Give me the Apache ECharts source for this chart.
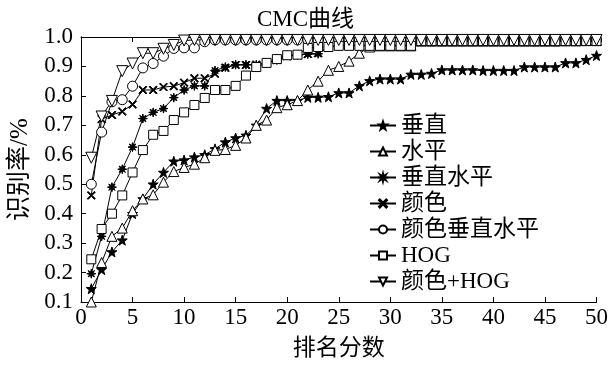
<!DOCTYPE html>
<html>
<head>
<meta charset="utf-8">
<script src="https://cdn.jsdelivr.net/npm/echarts@6/dist/echarts.min.js"></script>
<style>html,body{margin:0;padding:0;background:#fff;}#chart{width:611px;height:365px;}</style>
</head>
<body>
<div id="chart"></div>
<script>
var titleText = 'CMC曲线';
var xName = '排名分数';
var yName = '识别率/%';
var seriesNames = ['垂直', '水平', '垂直水平', '颜色', '颜色垂直水平', 'HOG', '颜色+HOG'];
var ranks = [1,2,3,4,5,6,7,8,9,10,11,12,13,14,15,16,17,18,19,20,21,22,23,24,25,26,27,28,29,30,31,32,33,34,35,36,37,38,39,40,41,42,43,44,45,46,47,48,49,50];
var xTicks = [0,5,10,15,20,25,30,35,40,45,50];
var yTicks = [0.1,0.2,0.3,0.4,0.5,0.6,0.7,0.8,0.9,1.0];

var vertical = [0.145,0.21,0.27,0.31,0.40,0.45,0.50,0.54,0.578,0.582,0.592,0.60,0.62,0.643,0.657,0.666,0.70,0.757,0.784,0.784,0.784,0.795,0.795,0.797,0.81,0.81,0.834,0.851,0.857,0.857,0.857,0.873,0.873,0.876,0.888,0.888,0.888,0.888,0.886,0.886,0.886,0.886,0.898,0.898,0.898,0.898,0.912,0.912,0.923,0.937];
var horizontal = [0.10,0.234,0.323,0.351,0.41,0.45,0.464,0.507,0.543,0.557,0.568,0.59,0.615,0.618,0.632,0.657,0.70,0.718,0.76,0.77,0.784,0.82,0.85,0.887,0.90,0.918,0.945,0.966,0.97,0.97,0.97,0.97,0.986,0.986,0.986,0.986,0.986,0.986,0.986,0.986,0.986,0.986,0.986,0.986,0.986,0.986,0.987,0.987,0.988,0.988];
var vertHoriz = [0.196,0.323,0.49,0.551,0.626,0.723,0.744,0.757,0.794,0.82,0.834,0.834,0.886,0.898,0.906,0.906,0.906,0.912,0.922,0.938,0.938,0.942,0.943,0.966,0.97,0.972,0.972,0.972,0.972,0.972,0.972,0.972,0.986,0.986,0.986,0.986,0.986,0.986,0.986,0.986,0.986,0.986,0.986,0.986,0.986,0.986,0.986,0.986,0.986,0.986];
var color = [0.462,0.721,0.735,0.747,0.771,0.82,0.82,0.83,0.833,0.845,0.86,0.86,0.875,0.895,0.905,0.905,0.906,0.912,0.922,0.935,0.938,0.942,0.945,0.966,0.972,0.972,0.972,0.972,0.972,0.972,0.972,0.972,0.986,0.986,0.986,0.986,0.986,0.986,0.986,0.986,0.986,0.986,0.986,0.986,0.986,0.986,0.986,0.986,0.986,0.986];
var colorVertHoriz = [0.50,0.677,0.78,0.787,0.833,0.895,0.91,0.935,0.961,0.963,0.963,0.984,0.99,0.99,0.99,0.99,0.99,0.99,0.99,0.99,0.99,0.99,0.99,0.99,0.99,0.99,0.99,0.99,0.99,0.99,0.99,0.99,0.99,0.99,0.99,0.99,0.99,0.99,0.99,0.99,0.99,0.99,0.99,0.99,0.99,0.99,0.99,0.99,0.99,0.99];
var hog = [0.245,0.348,0.40,0.462,0.54,0.616,0.668,0.681,0.718,0.744,0.769,0.793,0.82,0.82,0.834,0.869,0.898,0.912,0.925,0.938,0.94,0.963,0.966,0.966,0.97,0.97,0.97,0.97,0.97,0.97,0.97,0.97,0.986,0.986,0.986,0.986,0.986,0.986,0.986,0.986,0.986,0.986,0.986,0.986,0.986,0.986,0.986,0.986,0.986,0.986];
var colorHog = [0.59,0.73,0.783,0.884,0.91,0.945,0.945,0.96,0.973,0.988,0.99,0.99,0.99,0.99,0.99,0.99,0.99,0.99,0.99,0.99,0.99,0.99,0.99,0.99,0.99,0.99,0.99,0.99,0.99,0.99,0.99,0.99,0.99,0.99,0.99,0.99,0.99,0.99,0.99,0.99,0.99,0.99,0.99,0.99,0.99,0.99,0.99,0.99,0.99,0.99];

var seriesValues = [vertical, horizontal, vertHoriz, color, colorVertHoriz, hog, colorHog];

var STAR = 'path://M0,-10 L2.35,-3.24 L9.51,-3.09 L3.8,1.24 L5.88,8.09 L0,4 L-5.88,8.09 L-3.8,1.24 L-9.51,-3.09 L-2.35,-3.24 Z';
var ASTER = 'path://M0,-10 L1.53,-3.7 L7.07,-7.07 L3.7,-1.53 L10,0 L3.7,1.53 L7.07,7.07 L1.53,3.7 L0,10 L-1.53,3.7 L-7.07,7.07 L-3.7,1.53 L-10,0 L-3.7,-1.53 L-7.07,-7.07 L-1.53,-3.7 Z';
var XMARK = 'path://M-5,-4 L-4,-5 L0,-1 L4,-5 L5,-4 L1,0 L5,4 L4,5 L0,1 L-4,5 L-5,4 L-1,0 Z';
var TRI_UP = 'path://M0,-5 L5,4 L-5,4 Z';
var TRI_DN = 'path://M-5,-4 L5,-4 L0,5 Z';

var markerStyles = [
  {symbol: STAR, size: 10, fill: '#000'},
  {symbol: TRI_UP, size: 10, fill: '#fff'},
  {symbol: ASTER, size: 9, fill: '#000'},
  {symbol: XMARK, size: 8, fill: '#000'},
  {symbol: 'circle', size: 10, fill: '#fff'},
  {symbol: 'rect', size: 9, fill: '#fff'},
  {symbol: TRI_DN, size: 11, fill: '#fff'}
];

var serif = "'Liberation Serif', 'Times New Roman', 'Noto Sans CJK SC', serif";
var mixed = "'Liberation Serif', 'Noto Sans CJK SC', serif";

var series = seriesNames.map(function (name, i) {
  var vals = seriesValues[i];
  var m = markerStyles[i];
  return {
    name: name,
    type: 'line',
    data: ranks.map(function (r, j) { return [r, vals[j]]; }),
    symbol: m.symbol,
    symbolSize: m.size,
    showAllSymbol: true,
    lineStyle: {color: '#000', width: 1},
    itemStyle: {color: m.fill, borderColor: '#000', borderWidth: 1},
    emphasis: {disabled: true},
    animation: false
  };
});

var chart = echarts.init(document.getElementById('chart'), null, {renderer: 'canvas'});
chart.setOption({
  backgroundColor: '#fff',
  animation: false,
  title: {
    text: titleText,
    left: 'center',
    top: 3,
    textStyle: {fontFamily: mixed, fontSize: 23, fontWeight: 'normal', color: '#000'}
  },
  grid: {left: 81, right: 11, top: 37, bottom: 58, containLabel: false},
  legend: {
    orient: 'vertical',
    left: 364,
    top: 109,
    itemWidth: 26,
    itemHeight: 10,
    itemGap: 3,
    data: seriesNames,
    textStyle: {fontFamily: mixed, fontSize: 23, color: '#000'}
  },
  xAxis: [{
    type: 'value',
    min: xTicks[0],
    max: xTicks[xTicks.length - 1],
    interval: xTicks[1] - xTicks[0],
    name: xName,
    nameLocation: 'middle',
    nameGap: 35,
    nameTextStyle: {fontFamily: mixed, fontSize: 23, color: '#000'},
    axisLine: {lineStyle: {color: '#000', width: 1}},
    axisTick: {inside: true, length: 5, lineStyle: {color: '#000'}},
    axisLabel: {fontFamily: serif, fontSize: 23, color: '#000', margin: 4},
    splitLine: {show: false}
  }, {
    type: 'value',
    position: 'top',
    min: xTicks[0],
    max: xTicks[xTicks.length - 1],
    interval: xTicks[1] - xTicks[0],
    axisLine: {lineStyle: {color: '#000', width: 1}},
    axisTick: {inside: true, length: 5, lineStyle: {color: '#000'}},
    axisLabel: {show: false},
    splitLine: {show: false}
  }],
  yAxis: [{
    type: 'value',
    min: yTicks[0],
    max: yTicks[yTicks.length - 1],
    interval: 0.1,
    name: yName,
    nameLocation: 'middle',
    nameGap: 46,
    nameTextStyle: {fontFamily: mixed, fontSize: 25, color: '#000'},
    axisLine: {show: true, lineStyle: {color: '#000', width: 1}},
    axisTick: {show: true, inside: true, length: 5, lineStyle: {color: '#000'}},
    axisLabel: {fontFamily: serif, fontSize: 23, color: '#000', margin: 8,
      formatter: function (v) { return v.toFixed(1); }},
    splitLine: {show: false}
  }, {
    type: 'value',
    position: 'right',
    min: yTicks[0],
    max: yTicks[yTicks.length - 1],
    interval: 0.1,
    axisLine: {show: true, lineStyle: {color: '#000', width: 1}},
    axisTick: {show: false},
    axisLabel: {show: false},
    splitLine: {show: false}
  }],
  series: series
});
</script>
</body>
</html>
